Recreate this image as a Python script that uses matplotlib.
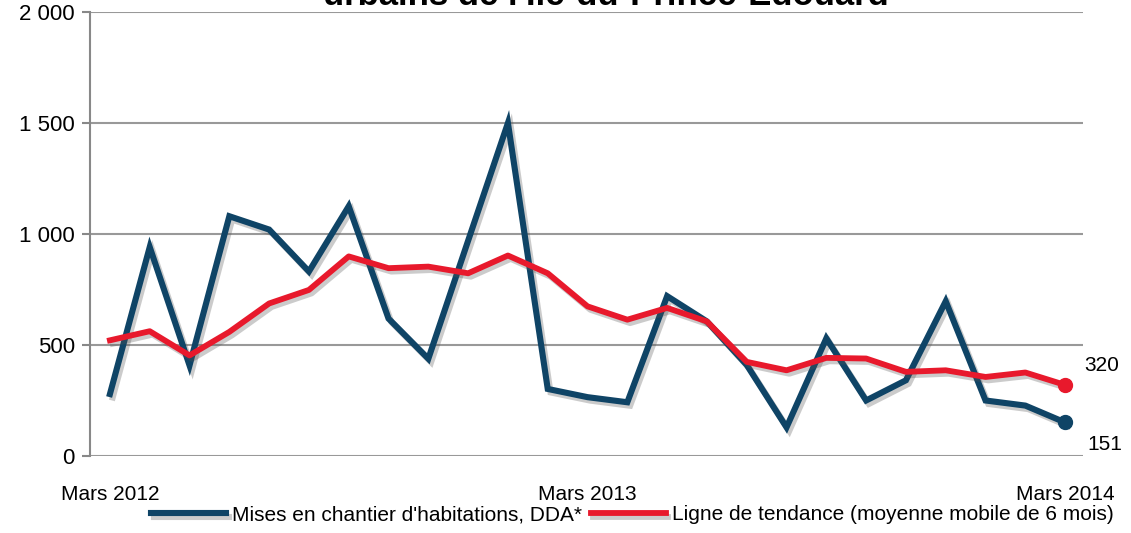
import matplotlib.pyplot as plt
import matplotlib.patheffects as pe
import numpy as np

# monthly data, Mars 2012 -> Mars 2014
mises_en_chantier = [279, 941, 408, 1080, 1020, 831, 1125, 619, 438, 970, 1500, 302,
                     265, 242, 720, 606, 410, 129, 530, 250, 341, 697, 250, 227, 151]
tendance = [521, 562, 453, 559, 687, 748, 899, 846, 853, 823, 903, 823,
            674, 614, 667, 606, 424, 386, 442, 439, 379, 386, 356, 376, 320]
tick_pos = [0, 12, 24]
tick_labels = ['Mars 2012', 'Mars 2013', 'Mars 2014']
y_ticks = [0, 500, 1000, 1500, 2000]
y_labels = ['0', '500', '1 000', '1 500', '2 000']

blue = '#0f4466'
red = '#e8192c'

plt.rcParams['font.family'] = ['Liberation Sans', 'DejaVu Sans']

fig = plt.figure(figsize=(11.31, 5.33), dpi=100)
ax = fig.add_axes([0.0796, 0.1445, 0.878, 0.833])

x = np.arange(len(mises_en_chantier))
shadow = [pe.SimpleLineShadow(offset=(2, -2.5), alpha=0.3, shadow_color='#555555'), pe.Normal()]

l1, = ax.plot(x, mises_en_chantier, color=blue, lw=4.4, solid_joinstyle='miter',
              path_effects=shadow, label="Mises en chantier d'habitations, DDA*", zorder=3)
l2, = ax.plot(x, tendance, color=red, lw=4.2, path_effects=shadow,
              label='Ligne de tendance (moyenne mobile de 6 mois)', zorder=4)
ax.plot(x[-1], mises_en_chantier[-1], 'o', color=blue, ms=10, zorder=5)
ax.plot(x[-1], tendance[-1], 'o', color=red, ms=10, zorder=5)

ax.annotate(str(mises_en_chantier[-1]), (x[-1], mises_en_chantier[-1]), xytext=(16, -16),
            textcoords='offset points', fontsize=15, ha='left', va='center')
ax.annotate(str(tendance[-1]), (x[-1], tendance[-1]), xytext=(14, 14),
            textcoords='offset points', fontsize=15, ha='left', va='center')

ax.set_xlim(-0.5, 24.45)
ax.set_ylim(0, 2000)
ax.set_yticks(y_ticks)
ax.set_yticklabels(y_labels, fontsize=16)
ax.set_xticks(tick_pos)
ax.set_xticklabels(tick_labels, fontsize=15)
ax.tick_params(axis='x', length=0, pad=21)
ax.tick_params(axis='y', length=6, color='#888888', width=1.5, pad=5)
ax.grid(axis='y', color='#999999', lw=1.5)
ax.set_axisbelow(True)
for s in ['top', 'right', 'bottom']:
    ax.spines[s].set_visible(False)
ax.spines['left'].set_color('#888888')
ax.spines['left'].set_linewidth(1.5)

fig.text(0.536, 1 - 5 / 533, "urbains de l'Île-du-Prince-Édouard", fontsize=25,
         weight='bold', ha='center', va='baseline')

leg = fig.legend(handles=[l1, l2], loc='center', bbox_to_anchor=(0.559, 0.034), ncol=2,
                 frameon=False, handlelength=3.6, handletextpad=0.3,
                 columnspacing=0.4, prop={'size': 15})

fig.savefig('out.png', dpi=100)
